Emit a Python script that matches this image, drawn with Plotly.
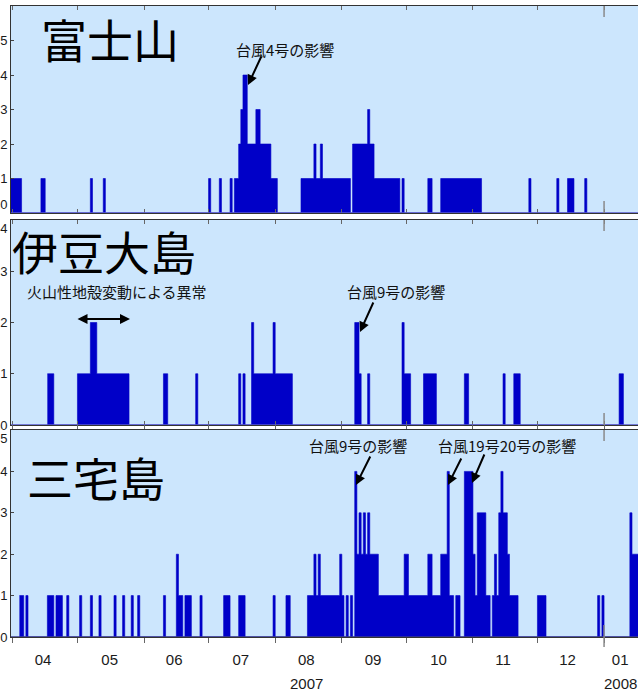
import plotly.graph_objects as go
import pandas as pd

# ---------------- data (runs of consecutive days: start date, number of days, daily count) -------------
fuji_start = ["2007-03-31", "2007-04-14", "2007-05-07", "2007-05-13", "2007-07-01", "2007-07-06",
              "2007-07-11", "2007-07-13", "2007-07-15", "2007-07-16", "2007-07-17", "2007-07-19",
              "2007-07-23", "2007-07-25", "2007-07-30", "2007-08-13", "2007-08-19", "2007-08-20",
              "2007-08-22", "2007-08-23", "2007-09-06", "2007-09-13", "2007-09-14", "2007-09-16",
              "2007-09-29", "2007-10-11", "2007-10-17", "2007-11-27", "2007-12-10", "2007-12-15",
              "2007-12-23"]
fuji_days = [5, 2, 1, 1, 1, 1, 1, 2, 1, 1, 2, 4, 2, 5, 3, 6, 1, 2, 1, 13, 7, 1, 2, 12, 1, 2, 19, 1, 1, 3, 1]
fuji_count = [1, 1, 1, 1, 1, 1, 1, 1, 2, 3, 4, 2, 3, 2, 1, 1, 2, 1, 2, 1, 2, 3, 2, 1, 1, 1, 1, 1, 1, 1, 1]

izu_start = ["2007-04-17", "2007-05-01", "2007-05-07", "2007-05-10", "2007-06-10", "2007-06-25",
             "2007-07-15", "2007-07-17", "2007-07-21", "2007-07-22", "2007-07-31", "2007-08-01",
             "2007-09-07", "2007-09-09", "2007-09-13", "2007-09-29", "2007-09-30", "2007-10-09",
             "2007-10-28", "2007-11-15", "2007-11-20", "2008-01-08"]
izu_days = [3, 6, 3, 15, 2, 1, 1, 1, 1, 9, 1, 8, 2, 1, 1, 1, 3, 6, 2, 1, 3, 2]
izu_count = [1, 1, 2, 1, 1, 1, 1, 1, 2, 1, 2, 1, 2, 1, 1, 2, 1, 1, 1, 1, 1, 1]

miyake_start = ["2007-04-04", "2007-04-07", "2007-04-17", "2007-04-21", "2007-04-26", "2007-05-02",
                "2007-05-07", "2007-05-11", "2007-05-18", "2007-05-22", "2007-05-26", "2007-05-29",
                "2007-06-10", "2007-06-16", "2007-06-17", "2007-06-20", "2007-06-27", "2007-07-08",
                "2007-07-15", "2007-07-31", "2007-08-06", "2007-08-16", "2007-08-19", "2007-08-20",
                "2007-08-21", "2007-08-22", "2007-08-31", "2007-09-01", "2007-09-03", "2007-09-05",
                "2007-09-07", "2007-09-08", "2007-09-09", "2007-09-10", "2007-09-11", "2007-09-12",
                "2007-09-13", "2007-09-14", "2007-09-18", "2007-09-30", "2007-10-02", "2007-10-11",
                "2007-10-13", "2007-10-17", "2007-10-20", "2007-10-21", "2007-10-24", "2007-10-28",
                "2007-11-01", "2007-11-02", "2007-11-03", "2007-11-07", "2007-11-10", "2007-11-11",
                "2007-11-12", "2007-11-13", "2007-11-14", "2007-11-15", "2007-11-17", "2007-11-18",
                "2007-12-01", "2007-12-29", "2007-12-31", "2008-01-13", "2008-01-14"]
miyake_days = [2, 1, 3, 3, 1, 1, 1, 1, 1, 1, 1, 1, 1, 1, 2, 3, 1, 3, 3, 1, 2, 3, 1, 1, 1, 9, 1, 1, 1, 1,
               1, 1, 1, 1, 1, 1, 1, 4, 12, 2, 9, 2, 4, 3, 1, 2, 2, 4, 1, 1, 4, 2, 1, 1, 1, 1, 1, 2, 1, 4,
               4, 1, 1, 1, 3]
miyake_count = [1, 1, 1, 1, 1, 1, 1, 1, 1, 1, 1, 1, 1, 2, 1, 1, 1, 1, 1, 1, 1, 1, 2, 1, 2, 1, 2, 1, 1, 1,
                4, 2, 3, 2, 3, 2, 3, 2, 1, 2, 1, 2, 1, 2, 4, 1, 1, 4, 2, 1, 3, 1, 1, 2, 1, 3, 4, 3, 2, 1,
                1, 1, 1, 3, 2]

month_label_pos = ["2007-04-15", "2007-05-16", "2007-06-15", "2007-07-16", "2007-08-15 12:00",
                   "2007-09-15 12:00", "2007-10-16", "2007-11-15", "2007-12-15", "2008-01-08 12:00"]
month_labels = ["04", "05", "06", "07", "08", "09", "10", "11", "12", "01"]
month_starts = ["2007-04-01", "2007-05-01", "2007-06-01", "2007-07-01", "2007-08-01", "2007-09-01",
                "2007-10-01", "2007-11-01", "2007-12-01", "2008-01-01"]
year_labels = ["2007", "2008"]
year_label_pos = ["2007-08-15 12:00", "2008-01-08 12:00"]

panel_names = ["富士山", "伊豆大島", "三宅島"]
panel_ymax = [6, 4, 5]
# y tick labels (edge labels nudged inward with a blank line, as in the original)
y_ticktext = [["0<br>\u00a0", "1", "2", "3", "4", "5", "6"],
              ["0", "1", "2", "3", "\u00a0<br>4"],
              ["0", "1", "2", "3", "4", "\u00a0<br>5"]]

# ---------------- style ----------------
W, H = 638, 692
L = 11
BG = "#cce6fd"
BAR = "#0000c8"
BASE = "#5858cc"
FRAME = "#333333"
X_RANGE = ["2007-03-31 02:00", "2008-01-16 19:00"]

# pixel extents (top, bottom) of each panel
panel_px = [(6, 213), (220, 425), (430, 637)]


def py2paper(py):
    return (H - py) / H


def px2paper(px):
    return (px - L) / (W - L)


def step_xy(starts, days, counts):
    """Outline of daily-count runs as a step polygon (hv)."""
    xs, ys = [], []
    prev_end = None
    for s, n, c in zip(starts, days, counts):
        s = pd.Timestamp(s)
        e = s + pd.Timedelta(days=n)
        if prev_end is not None and s != prev_end:
            xs.append(prev_end)
            ys.append(0)
        xs.append(s)
        ys.append(c)
        prev_end = e
    xs.append(prev_end)
    ys.append(0)
    return xs, ys


fig = go.Figure()

series = [(fuji_start, fuji_days, fuji_count),
          (izu_start, izu_days, izu_count),
          (miyake_start, miyake_days, miyake_count)]

for i, (st, nd, ct) in enumerate(series):
    ax = "" if i == 0 else str(i + 1)
    xs, ys = step_xy(st, nd, ct)
    fig.add_trace(go.Scatter(
        x=xs, y=ys, mode="lines", line=dict(shape="hv", width=0.6, color=BAR),
        fill="tozeroy", fillcolor=BAR,
        xaxis="x" + ax, yaxis="y" + ax, showlegend=False, hoverinfo="skip"))

layout = dict(
    width=W, height=H, margin=dict(l=L, r=0, t=0, b=0, autoexpand=False),
    paper_bgcolor="white", plot_bgcolor=BG,
    showlegend=False,
)

for i in range(3):
    sfx = "" if i == 0 else str(i + 1)
    last = (i == 2)
    xa = dict(
        type="date", range=X_RANGE, domain=[0, 1], anchor="y" + sfx, automargin=False,
        showline=True, linecolor=FRAME, linewidth=1, mirror="ticks",
        showgrid=False, zeroline=False,
        tickcolor="#666666", tickwidth=1,
    )
    if not last:
        xa.update(tickmode="array", tickvals=month_starts, ticks="inside", ticklen=4,
                  showticklabels=False)
    else:
        xa.update(tickmode="array", tickvals=month_label_pos, ticktext=month_labels,
                  ticks="", ticklen=0, showticklabels=True,
                  tickfont=dict(family="Liberation Sans, Arial, sans-serif", size=15, color="#1a1a1a"),
                  ticklabelstandoff=9,
                  minor=dict(tickmode="array", tickvals=month_starts, ticks="outside", ticklen=5,
                             tickcolor="#666666", tickwidth=1))
    top, bot = panel_px[i]
    ya = dict(
        domain=[py2paper(bot), py2paper(top)], anchor="x" + sfx, automargin=False,
        range=[0, panel_ymax[i]], tickmode="array", tickvals=list(range(panel_ymax[i] + 1)),
        ticktext=y_ticktext[i],
        showline=True, linecolor=FRAME, linewidth=1, mirror=False,
        ticks="inside", ticklen=3, tickcolor="#444444",
        showgrid=False, zeroline=False, ticklabelstandoff=0,
        tickfont=dict(family="Liberation Sans, Arial, sans-serif", size=13, color="#1a1a1a"),
    )
    layout["xaxis" + sfx] = xa
    layout["yaxis" + sfx] = ya

fig.update_layout(**layout)

# baselines and long year-boundary ticks
shapes = []
for i in range(3):
    sfx = "" if i == 0 else str(i + 1)
    shapes.append(dict(type="line", xref="x" + sfx + " domain" if sfx else "x domain",
                       yref="y" + sfx, x0=0, x1=1, y0=0, y1=0,
                       line=dict(color=BASE if i < 2 else "#3a3a8c", width=1.5), layer="above"))
    top, bot = panel_px[i]
    hgt = bot - top
    yref = ("y" + sfx + " domain") if sfx else "y domain"
    xref = "x" + sfx if sfx else "x"
    shapes.append(dict(type="line", xref=xref, yref=yref, x0=month_starts[-1], x1=month_starts[-1],
                       y0=1, y1=1 - 11 / hgt, line=dict(color="#8a8a8a", width=1.5), layer="above"))
    y_low = -10 / hgt if i == 2 else 0
    shapes.append(dict(type="line", xref=xref, yref=yref, x0=month_starts[-1], x1=month_starts[-1],
                       y0=y_low, y1=12 / hgt, line=dict(color="#8a8a8a", width=1.5), layer="above"))
fig.update_layout(shapes=shapes)

CJK = "Noto Sans CJK JP, sans-serif"
ann = []
# panel names
for name, (cx, cy) in zip(panel_names, [(110, 38), (104, 250), (96, 476)]):
    ann.append(dict(text=name, xref="paper", yref="paper", x=px2paper(cx), y=py2paper(cy),
                    xanchor="center", yanchor="middle", showarrow=False,
                    font=dict(family=CJK, size=46, color="black")))
# explanatory notes
notes = [("台風4号の影響", 285, 50), ("火山性地殻変動による異常", 117, 292),
         ("台風9号の影響", 396, 291), ("台風9号の影響", 358, 445), ("台風19号20号の影響", 507, 445)]
for t, cx, cy in notes:
    ann.append(dict(text=t, xref="paper", yref="paper", x=px2paper(cx), y=py2paper(cy),
                    xanchor="center", yanchor="middle", showarrow=False,
                    font=dict(family=CJK, size=15, color="#111111")))
# arrows: head pixel position, tail offset
arrows = [(248, 85, 14, -30, "end"), (360, 332, 14, -31, "end"), (356, 485, 15, -30, "end"),
          (448, 485, 14, -28, "end"), (472, 483, 13, -30, "end"), (130, 319, -54, 0, "end+start")]
for hx, hy, axp, ayp, side in arrows:
    ann.append(dict(text="", xref="paper", yref="paper", x=px2paper(hx), y=py2paper(hy),
                    ax=axp, ay=ayp, showarrow=True, arrowhead=2, arrowsize=1, arrowwidth=2,
                    arrowcolor="black", arrowside=side))
# year labels
for t, xp in zip(year_labels, year_label_pos):
    ann.append(dict(text=t, xref="x3", yref="paper", x=xp, y=py2paper(683),
                    xanchor="center", yanchor="middle", showarrow=False,
                    font=dict(family="Liberation Sans, Arial, sans-serif", size=15, color="#1a1a1a")))
fig.update_layout(annotations=ann)

fig.write_html("out.html", config={"displayModeBar": False},
               post_script="document.body.style.margin='0';document.body.style.overflow='hidden';")
